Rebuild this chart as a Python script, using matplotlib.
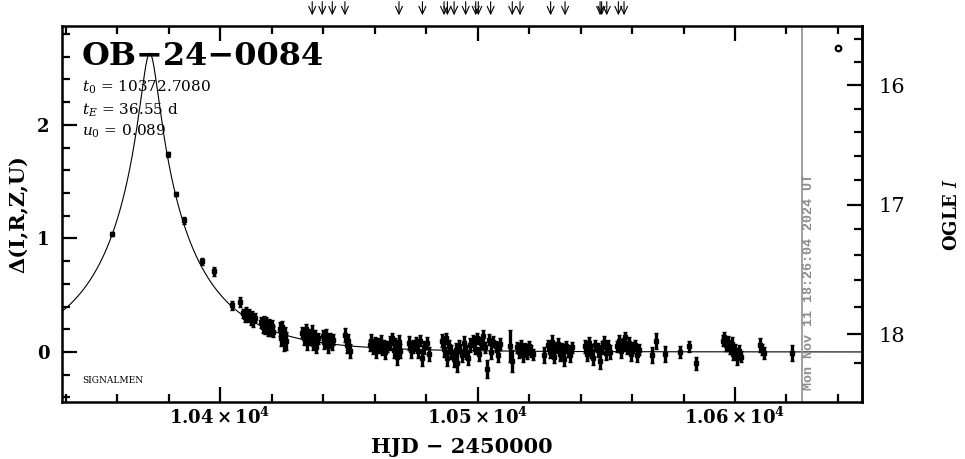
import numpy as np
import matplotlib
matplotlib.use('Agg')
import matplotlib.pyplot as plt
from matplotlib.ticker import MultipleLocator, FixedLocator, FuncFormatter

plt.rcParams['font.family'] = ['DejaVu Serif']
plt.rcParams['mathtext.fontset'] = 'dejavuserif'

# event / fit parameters shown in the panel
event_name = "OB\u221224\u22120084"
t0 = 10372.7080
tE = 36.55
u0 = 0.089
I_base = 18.125   # baseline OGLE I
f_src = 0.79      # source flux fraction used for the right-hand scale

# photometry: HJD-2450000, Delta mag, error (one line per observing group)
hjd = [
    10357.9, 10379.9, 10382.9, 10386.0, 10392.9, 10397.7, 10404.8, 10407.8,
    10409.0, 10409.6, 10410.2, 10410.8, 10411.3, 10411.9, 10412.4, 10412.9, 10413.4,
    10416.0, 10416.5, 10417.0, 10417.5, 10418.0, 10418.5, 10419.0, 10419.5, 10420.0, 10420.6,
    10423.2, 10423.7, 10424.2, 10424.7, 10425.2, 10425.7,
    10432.0, 10432.6, 10433.2, 10433.8, 10434.4, 10435.0, 10435.6, 10436.2, 10436.8, 10437.4, 10438.0,
    10439.8, 10440.5, 10441.2, 10441.9, 10442.6, 10443.3, 10443.9,
    10448.6, 10449.2, 10449.8, 10450.4,
    10458.2, 10458.8, 10459.4, 10460.0, 10460.6, 10461.2, 10461.8, 10462.4, 10463.0, 10463.6, 10464.2, 10464.8,
    10466.0, 10466.7, 10467.4, 10468.1, 10468.8, 10469.5, 10470.0,
    10473.3, 10474.2, 10475.0,
    10476.2, 10477.0, 10477.8, 10478.6, 10479.4, 10480.2, 10481.0,
    10486.2, 10486.9, 10487.6, 10488.3, 10489.0, 10489.7,
    10490.8, 10491.5, 10492.2, 10493.0, 10493.8, 10494.6, 10495.4, 10496.2, 10497.0,
    10498.2, 10499.0, 10499.8, 10500.6, 10501.4, 10502.2, 10503.0, 10503.7, 10504.6, 10505.4, 10506.2, 10507.0, 10507.8, 10508.6,
    10512.8, 10513.5,
    10515.2, 10516.0, 10516.8, 10517.6, 10518.4, 10519.2, 10520.0, 10520.8, 10521.6, 10526.0,
    10527.2, 10528.0, 10528.8, 10529.6, 10530.4, 10531.2, 10532.0, 10532.8, 10533.6, 10534.4, 10535.2, 10536.0, 10536.8,
    10541.8, 10542.6, 10543.4, 10544.2, 10545.0, 10545.8, 10546.6, 10547.4, 10548.2, 10549.0, 10549.8, 10550.6, 10551.4,
    10554.0, 10554.8, 10555.6, 10556.4, 10557.2, 10558.0, 10558.8, 10559.6, 10560.4, 10561.2, 10562.0, 10562.8,
    10567.8, 10569.2, 10572.8, 10578.6, 10582.0, 10585.0,
    10595.2, 10595.9, 10596.6, 10597.3, 10598.0, 10598.7, 10599.4, 10600.1, 10600.8, 10601.5, 10602.2,
    10609.8, 10610.6, 10611.4,
    10622.0,
]
delta = [
    1.04, 1.74, 1.39, 1.16, 0.80, 0.71, 0.41, 0.44,
    0.34, 0.31, 0.36, 0.30, 0.33, 0.28, 0.32, 0.27, 0.30,
    0.26, 0.22, 0.28, 0.21, 0.25, 0.19, 0.24, 0.20, 0.23, 0.18,
    0.20, 0.12, 0.22, 0.08, 0.16, 0.10,
    0.17, 0.12, 0.20, 0.08, 0.15, 0.11, 0.18, 0.07, 0.13, 0.04, 0.12,
    0.14, 0.09, 0.15, 0.05, 0.12, 0.08, 0.11,
    0.15, 0.06, 0.10, 0.01,
    0.06, 0.10, 0.03, 0.08, 0.01, 0.07, 0.04, 0.09, 0.02, 0.06, 0.00, 0.05,
    0.08, 0.12, 0.02, 0.06, -0.04, 0.09, 0.01,
    0.08, 0.02, 0.05,
    0.07, 0.01, 0.10, -0.05, 0.04, 0.08, -0.02,
    0.10, 0.03, 0.12, -0.05, 0.05, 0.00,
    -0.06, 0.02, -0.10, 0.05, -0.03, 0.08, 0.00, -0.05, 0.06,
    0.10, 0.03, 0.12, -0.02, 0.08, 0.14, 0.04, -0.15, 0.11, 0.00, 0.09, 0.05, -0.03, 0.07,
    0.05, -0.08,
    0.04, 0.00, 0.06, -0.03, 0.03, -0.01, 0.05, 0.01, -0.02, -0.03,
    0.06, 0.00, 0.09, -0.04, 0.04, 0.07, -0.02, 0.03, -0.06, 0.05, 0.01, -0.03, 0.04,
    0.05, -0.02, 0.08, 0.01, -0.05, 0.06, 0.02, -0.08, 0.04, 0.09, -0.01, 0.05, 0.00,
    0.05, 0.10, 0.01, 0.07, 0.13, 0.03, 0.08, -0.02, 0.04, 0.06, -0.03, 0.02,
    -0.03, 0.10, -0.02, 0.00, 0.05, -0.10,
    0.10, 0.13, 0.06, 0.09, 0.03, 0.07, -0.02, 0.02, -0.05, 0.01, -0.04,
    0.06, 0.02, -0.01,
    -0.01,
]
err = [
    0.02, 0.02, 0.02, 0.03, 0.03, 0.04, 0.04, 0.04,
    0.04, 0.05, 0.04, 0.04, 0.05, 0.04, 0.04, 0.05, 0.04,
    0.05, 0.05, 0.04, 0.05, 0.06, 0.05, 0.05, 0.06, 0.05, 0.05,
    0.06, 0.07, 0.05, 0.07, 0.06, 0.08,
    0.05, 0.06, 0.05, 0.06, 0.05, 0.05, 0.06, 0.05, 0.06, 0.05, 0.05,
    0.05, 0.06, 0.05, 0.06, 0.05, 0.06, 0.05,
    0.06, 0.07, 0.06, 0.06,
    0.05, 0.06, 0.05, 0.05, 0.06, 0.05, 0.05, 0.06, 0.05, 0.05, 0.06, 0.05,
    0.06, 0.05, 0.07, 0.06, 0.07, 0.06, 0.06,
    0.06, 0.07, 0.06,
    0.06, 0.06, 0.05, 0.07, 0.06, 0.05, 0.06,
    0.06, 0.07, 0.05, 0.07, 0.06, 0.06,
    0.07, 0.06, 0.08, 0.06, 0.06, 0.06, 0.06, 0.06, 0.06,
    0.05, 0.05, 0.05, 0.06, 0.05, 0.05, 0.05, 0.08, 0.05, 0.06, 0.05, 0.05, 0.06, 0.05,
    0.14, 0.10,
    0.05, 0.05, 0.05, 0.06, 0.05, 0.05, 0.05, 0.05, 0.05, 0.07,
    0.05, 0.05, 0.06, 0.06, 0.05, 0.05, 0.06, 0.05, 0.06, 0.05, 0.05, 0.06, 0.05,
    0.06, 0.06, 0.05, 0.06, 0.06, 0.05, 0.06, 0.07, 0.06, 0.05, 0.06, 0.06, 0.06,
    0.05, 0.05, 0.06, 0.05, 0.05, 0.05, 0.05, 0.06, 0.05, 0.05, 0.06, 0.05,
    0.07, 0.07, 0.07, 0.05, 0.05, 0.06,
    0.05, 0.05, 0.05, 0.05, 0.05, 0.06, 0.05, 0.05, 0.06, 0.05, 0.05,
    0.06, 0.05, 0.05,
    0.07,
]

# epochs marked with arrows along the top
arrow_hjd = [10435.8, 10439.7, 10443.6, 10448.5, 10469.5, 10478.6, 10487.0, 10488.3,
             10490.9, 10495.4, 10499.3, 10500.3, 10505.1, 10513.5, 10516.5, 10528.4,
             10534.0, 10547.6, 10548.2, 10550.2, 10554.7, 10556.9]

# right-hand OGLE I scale ticks
mag_major = [16, 17, 18]
mag_minor = [15.6, 15.8, 16.2, 16.4, 16.6, 16.8, 17.2, 17.4, 17.6, 17.8, 18.2]

# open marker in the upper right corner
corner_hjd, corner_delta = 10640.1, 2.68

run_hjd = 10626.0
stamp = "Mon Nov 11 18:26:04 2024 UT"


def ampl(t):
    u = np.sqrt(u0**2 + ((t - t0) / tE)**2)
    return (u**2 + 2) / (u * np.sqrt(u**2 + 4))


def d2m(d):
    a = 10**(0.4 * np.asarray(d, dtype=float))
    return I_base - 2.5 * np.log10(np.clip(f_src * (a - 1) + 1, 1e-6, None))


def m2d(m):
    x = 10**(0.4 * (I_base - np.asarray(m, dtype=float)))
    return 2.5 * np.log10(np.clip(1 + (x - 1) / f_src, 1e-6, None))


fig = plt.figure(figsize=(9.65, 4.59), dpi=100)
ax = fig.add_axes([0.0642, 0.1242, 0.829, 0.8192])

xlim = (10338.6, 10649.3)
tt = np.linspace(xlim[0], xlim[1], 2000)
ax.plot(tt, 2.5 * np.log10(ampl(tt)), color='k', lw=0.8)

ax.errorbar(hjd, delta, yerr=err, fmt='s', ms=3, color='k', ecolor='k',
            elinewidth=2.4, capsize=1.5, capthick=1)

ax.plot(corner_hjd, corner_delta, 'o', mfc='none', mec='k', ms=4, mew=1.6)

ax.axvline(run_hjd, color='#9a9a9a', lw=1.3)
ax.text(run_hjd + 2.6, -0.335, stamp, rotation=90, ha='center', va='bottom',
        family='Liberation Mono', weight='bold', fontsize=9.6, color='#8c8c8c')

for t in arrow_hjd:
    ax.annotate('', xy=(t, 1.021), xytext=(t, 1.072), xycoords=ax.get_xaxis_transform(),
                arrowprops=dict(arrowstyle='->,head_length=0.55,head_width=0.25', lw=0.8, color='k'),
                annotation_clip=False)

ax.set_xlim(*xlim)
ax.set_ylim(-0.44, 2.87)

ax.xaxis.set_major_locator(MultipleLocator(100))
ax.xaxis.set_minor_locator(MultipleLocator(20))
ax.xaxis.set_major_formatter(FuncFormatter(lambda v, p: r"$\mathbf{%.2f\times10^{4}}$" % (v / 1e4)))
ax.yaxis.set_major_locator(MultipleLocator(1))
ax.yaxis.set_minor_locator(MultipleLocator(0.2))
ax.yaxis.set_major_formatter(FuncFormatter(lambda v, p: "%d" % round(v)))

ax.tick_params(which='both', direction='in', top=True, right=False, width=1.6, labelsize=13)
ax.tick_params(which='major', length=11)
ax.tick_params(which='minor', length=6)
ax.tick_params(axis='x', which='major', pad=3)
ax.tick_params(axis='y', which='major', pad=9)
for lab in ax.get_yticklabels():
    lab.set_fontweight('bold')
for sp in ax.spines.values():
    sp.set_linewidth(1.8)

sec = ax.secondary_yaxis('right', functions=(d2m, m2d))
sec.yaxis.set_major_locator(FixedLocator(mag_major))
sec.yaxis.set_minor_locator(FixedLocator(mag_minor))
sec.yaxis.set_major_formatter(FuncFormatter(lambda v, p: "%d" % round(v)))
sec.tick_params(which='both', direction='in', width=1.6, labelsize=15)
sec.tick_params(which='major', length=11, pad=12)
sec.tick_params(which='minor', length=6)
sec.spines['right'].set_linewidth(1.8)
sec.set_ylabel(r"OGLE $I$", fontsize=13, weight='bold', labelpad=27)

ax.set_xlabel("HJD \u2212 2450000", fontsize=15, weight='bold', labelpad=7)
ax.set_ylabel("\u0394(I,R,Z,U)", fontsize=15, weight='bold', labelpad=6)

ax.text(0.025, 0.918, event_name, transform=ax.transAxes, fontsize=23, weight='bold',
        va='center', ha='left')
ax.text(0.025, 0.836, r"$t_0$ = 10372.7080", transform=ax.transAxes, fontsize=11, va='center')
ax.text(0.025, 0.777, r"$t_E$ = 36.55 d", transform=ax.transAxes, fontsize=11, va='center')
ax.text(0.025, 0.721, r"$u_0$ = 0.089", transform=ax.transAxes, fontsize=11, va='center')
ax.text(0.025, 0.058, "SIGNALMEN", transform=ax.transAxes, fontsize=6.5, va='center')

fig.savefig("out.png", dpi=100)
